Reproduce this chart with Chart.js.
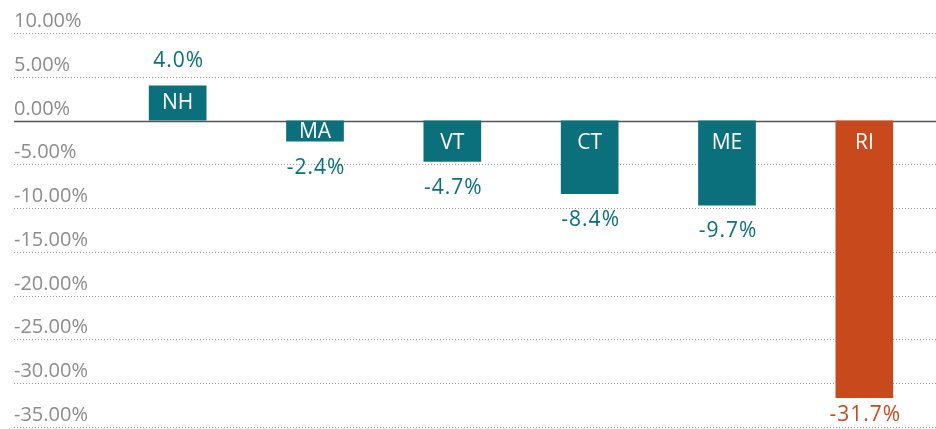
<!DOCTYPE html>
<html>
<head>
<meta charset="utf-8">
<script src="https://cdn.jsdelivr.net/npm/chart.js@4.4.1/dist/chart.umd.min.js"></script>
<style>
  html, body { margin: 0; padding: 0; background: #fff; }
  #wrap { width: 936px; height: 429px; position: relative; }
</style>
</head>
<body>
<div id="wrap"><canvas id="barChart"></canvas></div>
<script>
const states = ["NH", "MA", "VT", "CT", "ME", "RI"];
const changes = [4.0, -2.4, -4.7, -8.4, -9.7, -31.7];
const yTicks = [10, 5, 0, -5, -10, -15, -20, -25, -30, -35];
const highlight = "RI";

const teal = "#0b6f7c";
const orange = "#c84a1c";

const barColors = states.map((s) => (s === highlight ? orange : teal));

// grid lines + tick labels across the whole width, labels sit above the line
const gridPlugin = {
  id: "gridPlugin",
  beforeDatasetsDraw(chart) {
    const ctx = chart.ctx;
    const y = chart.scales.y;
    ctx.save();
    ctx.font = "20px 'Open Sans'";
    ctx.fillStyle = "#8c8c8c";
    ctx.textAlign = "left";
    ctx.textBaseline = "bottom";
    yTicks.forEach((t) => {
      const py = Math.round(y.getPixelForValue(t)) + 0.5;
      ctx.beginPath();
      if (t === 0) {
        ctx.setLineDash([]);
        ctx.strokeStyle = "#555";
        ctx.lineWidth = 1.5;
      } else {
        ctx.setLineDash([1, 2]);
        ctx.strokeStyle = "#9a9a9a";
        ctx.lineWidth = 1;
      }
      ctx.moveTo(14, py);
      ctx.lineTo(936, py);
      ctx.stroke();
      ctx.fillText(t.toFixed(2) + "%", 14, py - 2);
    });
    ctx.restore();
  },
  afterDatasetsDraw(chart) {
    const ctx = chart.ctx;
    const meta = chart.getDatasetMeta(0);
    ctx.save();
    meta.data.forEach((bar, i) => {
      const v = changes[i];
      const top = Math.min(bar.y, bar.base);
      const bottom = Math.max(bar.y, bar.base);
      const left = bar.x - bar.width / 2;

      // state name inside bar, clipped to the bar
      ctx.save();
      ctx.beginPath();
      ctx.rect(left, top, bar.width, bottom - top);
      ctx.clip();
      ctx.font = "21px 'Open Sans'";
      ctx.letterSpacing = "0px";
      ctx.fillStyle = "#fff";
      ctx.textAlign = "center";
      ctx.textBaseline = "middle";
      let cy;
      if (v >= 0) {
        cy = (top + bottom) / 2;
      } else {
        cy = Math.min(bar.base + 22, bar.y - 10);
      }
      ctx.fillText(states[i], bar.x, cy);
      ctx.restore();

      // value label outside the bar end
      ctx.font = "21px 'Open Sans'";
      ctx.letterSpacing = "1px";
      ctx.fillStyle = barColors[i];
      ctx.textAlign = "center";
      ctx.textBaseline = "middle";
      const vy = v >= 0 ? bar.y - 25 : Math.min(bar.y + 26, 415);
      ctx.fillText(v.toFixed(1) + "%", bar.x + 1, vy);
    });
    ctx.restore();
  },
};

new Chart(document.getElementById("barChart").getContext("2d"), {
  type: "bar",
  data: {
    labels: states,
    datasets: [
      {
        data: changes,
        backgroundColor: barColors,
        borderWidth: 0,
        categoryPercentage: 1,
        barPercentage: 0.42,
      },
    ],
  },
  options: {
    responsive: true,
    maintainAspectRatio: false,
    animation: false,
    layout: { padding: { left: 109, right: 3, top: 33, bottom: 2 } },
    plugins: { legend: { display: false }, tooltip: { enabled: false } },
    scales: {
      x: { display: false },
      y: { display: false, min: -35, max: 10 },
    },
  },
  plugins: [gridPlugin],
});
</script>
</body>
</html>
